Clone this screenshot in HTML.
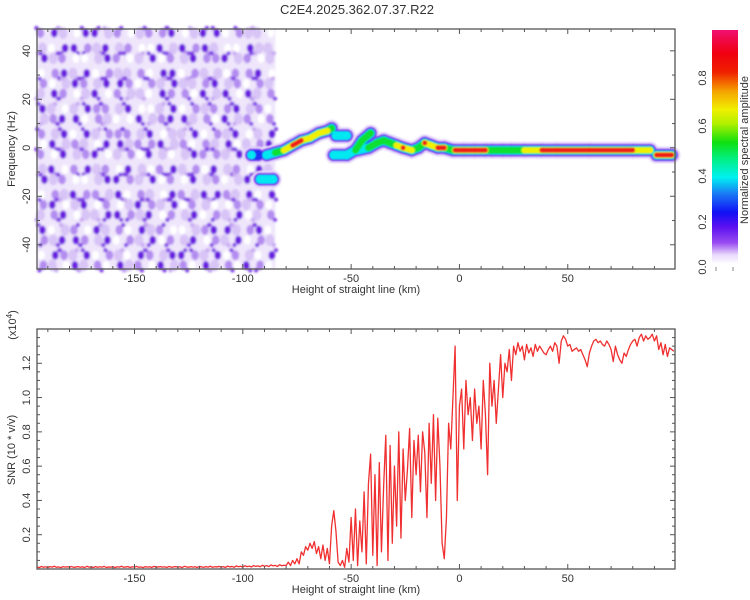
<!DOCTYPE html>
<html><head><meta charset="utf-8">
<style>
html,body{margin:0;padding:0;background:#fff;}
svg{display:block;font-family:"Liberation Sans",sans-serif;}
text{fill:#333;font-size:11px;}
</style></head>
<body>
<svg id="chart" width="750" height="600" viewBox="0 0 750 600">
<defs>
<filter id="blur1" x="-20%" y="-20%" width="140%" height="140%"><feGaussianBlur stdDeviation="1.0"/></filter>
<filter id="blur2" x="-20%" y="-20%" width="140%" height="140%"><feGaussianBlur stdDeviation="0.9"/></filter>
<linearGradient id="cbar" x1="0" y1="1" x2="0" y2="0">
<stop offset="0" stop-color="#ffffff"/>
<stop offset="0.04" stop-color="#e8d8fb"/>
<stop offset="0.09" stop-color="#9a4cf0"/>
<stop offset="0.16" stop-color="#5a10f0"/>
<stop offset="0.22" stop-color="#1010f5"/>
<stop offset="0.30" stop-color="#1a7af5"/>
<stop offset="0.37" stop-color="#00f0f0"/>
<stop offset="0.44" stop-color="#00f090"/>
<stop offset="0.52" stop-color="#10e010"/>
<stop offset="0.60" stop-color="#b0f000"/>
<stop offset="0.66" stop-color="#f0f000"/>
<stop offset="0.74" stop-color="#f5a000"/>
<stop offset="0.82" stop-color="#f02000"/>
<stop offset="0.90" stop-color="#f00010"/>
<stop offset="1" stop-color="#f01070"/>
</linearGradient>
</defs>
<text x="357" y="14" text-anchor="middle" style="font-size:13px">C2E4.2025.362.07.37.R22</text>
<g id="topPanel"></g>
<g id="bottomPanel"></g>
<g id="colorbar">
<rect x="712" y="30" width="26" height="234" fill="url(#cbar)"/>
<line x1="716" y1="267" x2="716" y2="271" stroke="#888"/>
<line x1="733" y1="267" x2="733" y2="271" stroke="#888"/>
<text transform="translate(706,267) rotate(-90)" text-anchor="middle">0.0</text>
<text transform="translate(706,222) rotate(-90)" text-anchor="middle">0.2</text>
<text transform="translate(706,176) rotate(-90)" text-anchor="middle">0.4</text>
<text transform="translate(706,126) rotate(-90)" text-anchor="middle">0.6</text>
<text transform="translate(706,78) rotate(-90)" text-anchor="middle">0.8</text>
<text transform="translate(748,150) rotate(-90)" text-anchor="middle">Normalized spectral amplitude</text>
</g>
</svg>
<script>
// ---------- data ----------
const xTicks = [-150, -100, -50, 0, 50];
const fTicks = [40, 20, 0, -20, -40];
const snrTicks = [0.2, 0.4, 0.6, 0.8, 1.0, 1.2];
// noise grid: columns -195..-85 (5 km), rows 49..-50 (5 Hz); level 0-3
const noiseRows = [
"2310331201223013302110",
"1033213120031323100311",
"3120013201302132231201",
"0231302112033021102230",
"2013213320213112312021",
"1320130211032203130312",
"3101322130013021223120",
"1233021003123312031202",
"2130312221301130213013",
"0312103312231202130123",
"2031230120310132213202",
"1302312031023120312031",
"3120013321302031201320",
"0213221302103213321303",
"2301302013213021002120",
"1230113321302130213012",
"3012031203120012331230",
"2133213021302130213021",
"0321302103213321302103",
"2103120312031203120320"
];
// spectral ridge
const ridgeGroup = [0,0, 1,1, 2,2,2,2,2,2,2,2,2, 3,3, 4,4,4,4,4, 5,5,5,5,5,5,5,5,5,5,5,5,5,5, 6,6,6,6,6,6,6,6,6,6,6,6,6, 7,7];
const ridgeX =     [-96,-93, -92,-86, -89,-85,-81,-77,-73,-69,-65,-61,-59, -57,-52, -58,-52,-48,-45,-41, -47,-42,-38,-35,-32,-29,-26,-22,-19,-16,-13,-10,-7,-3, -2,2,7,12,15,20,24,30,38,45,60,80,88, 91,98];
const ridgeF =     [-3,-3, -13,-13, -3,-2,-1,1,3,4,6,7,8, 5,5, -3,-3,-1,3,6, -1,0,2,3,2,1,0,-1,0,2,1,0,0,-1, -1,-1,-1,-1,-1,-1,-1,-1,-1,-1,-1,-1,-1, -3,-3];
const ridgeA =     [0.35,0.3, 0.38,0.35, 0.4,0.55,0.75,0.85,0.8,0.75,0.7,0.7,0.55, 0.45,0.45, 0.4,0.38,0.5,0.55,0.5, 0.45,0.5,0.55,0.55,0.6,0.75,0.85,0.7,0.55,0.8,0.7,0.85,0.85,0.6, 0.85,0.85,0.85,0.85,0.6,0.55,0.6,0.65,0.95,0.95,0.95,0.95,0.65, 0.85,0.85];
// SNR series (x10^4), 1 km steps starting at snrStart
const snrStart = -195;
const snrFlat = [
.012,.008,.015,.010,.013,.009,.014,.011,.016,.010,
.012,.008,.014,.011,.013,.010,.015,.009,.012,.014,
.010,.013,.008,.016,.011,.012,.009,.014,.010,.013,
.011,.015,.009,.012,.010,.014,.008,.013,.011,.016,
.010,.012,.014,.009,.013,.011,.015,.010,.012,.008,
.014,.011,.013,.009,.016,.010,.012,.014,.011,.013,
.009,.015,.010,.012,.014,.011,.013,.008,.016,.012,
.010,.014,.011,.013,.009,.015,.012,.010,.014,.011,
.016,.010,.013,.012,.015,.011,.014,.009,.017,.012,
.015,.010,.018,.013,.016,.011,.019,.014,.017,.012,
.020,.015,.018,.013,.022,.016,.020,.014,.024,.018,
.021,.015,.025,.019,.022];
const snrActive = [
.02,.04,.02,.05,.03,.06,.03,.10,.08,.13,
.11,.15,.12,.16,.09,.13,.06,.14,.05,.12,
.03,.25,.34,.22,.04,.02,.05,.01,.12,.04,
.30,.05,.35,.02,.28,.10,.45,.03,.50,.67,
.08,.55,.02,.62,.10,.48,.78,.05,.72,.15,
.60,.25,.80,.18,.70,.40,.58,.82,.30,.75,
.55,.78,.45,.80,.68,.30,.85,.50,.90,.40,
.88,.60,.15,.06,.30,.85,.70,1.00,1.30,.40,
.95,1.05,.70,1.10,.90,1.00,.75,1.05,.85,.95,
.70,1.10,.90,.55,1.20,.95,1.10,.85,1.05,1.25,
1.00,1.20,1.15,1.28,1.10,1.30,1.25,1.32,1.27,1.30,
1.22,1.31,1.26,1.29,1.24,1.31,1.27,1.30,1.28,1.26,
1.25,1.28,1.30,1.27,1.32,1.30,1.20,1.33,1.36,1.34,
1.30,1.31,1.27,1.28,1.29,1.27,1.28,1.25,1.22,1.18,
1.26,1.30,1.33,1.34,1.32,1.33,1.31,1.30,1.33,1.31,
1.28,1.21,1.30,1.25,1.22,1.20,1.26,1.24,1.28,1.31,
1.33,1.34,1.30,1.35,1.37,1.33,1.36,1.34,1.35,1.37,
1.33,1.36,1.28,1.32,1.25,1.31,1.24,1.29,1.28,1.27];

// ---------- scales ----------
const X0 = 37, X1 = 675;
const xMin = -195, xMax = 99.5;
function xS(v){ return X0 + (v - xMin) / (xMax - xMin) * (X1 - X0); }
const T0 = 29, T1 = 269, fMax = 49, fMin = -50;
function fS(f){ return T0 + (fMax - f) / (fMax - fMin) * (T1 - T0); }
const B0 = 329, B1 = 569, sMax = 1.4;
function sS(v){ return B1 - v / sMax * (B1 - B0); }

const NS = 'http://www.w3.org/2000/svg';
function mk(tag, attrs, parent){
  const e = document.createElementNS(NS, tag);
  for (const k in attrs) e.setAttribute(k, attrs[k]);
  parent.appendChild(e);
  return e;
}

function axes(g, yTop, yBot, nameP){
  const frame = mk('rect', {x:X0, y:yTop, width:X1-X0, height:yBot-yTop, fill:'none', stroke:'#555', 'stroke-width':1.3}, g);
  
  
  for (let v = -190; v <= 90; v += 10) {
    const major = v % 50 === 0;
    const len = major ? 5 : 3;
    const x = xS(v);
    const t1 = mk('line', {x1:x, y1:yBot, x2:x, y2:yBot-len, stroke:'#555'}, g);
    
    
    const t2 = mk('line', {x1:x, y1:yTop, x2:x, y2:yTop+len, stroke:'#555'}, g);
    
    
  }
  xTicks.forEach(v => {
    const t = mk('text', {x:xS(v), y:yBot+13, 'text-anchor':'middle'}, g);
    t.textContent = v;
    
    
  });
  const xl = mk('text', {x:356, y:yBot+24, 'text-anchor':'middle'}, g);
  xl.textContent = 'Height of straight line (km)';
  
  
}

// ---------- top spectrogram ----------
const topG = document.getElementById('topPanel');
const noiseG = mk('g', {filter:'url(#blur1)'}, topG);


const nbg = mk('rect', {x:xS(-195), y:T0, width:xS(-85)-xS(-195), height:T1-T0, fill:'#efe6fb'}, noiseG);


const lvlColor = ['#ffffff','#d8c4f6','#b38cf0','#6a1ee0'];
const lvlR = [3.5, 4.5, 3.8, 3.4];
noiseRows.forEach((row, r) => {
  for (let c = 0; c < row.length; c++) {
    const lv = +row[c];
    const cx = xS(-192.5 + c * 5) + ((r * 7 + c * 3) % 5 - 2);
    const cy = fS(46.5 - r * 5) + ((r * 3 + c * 5) % 5 - 2);
    const el = mk('ellipse', {cx:cx, cy:cy, rx:lvlR[lv], ry:lvlR[lv]*1.3, fill:lvlColor[lv]}, noiseG);
    
    
    if (lv >= 1) {
      const e2 = mk('circle', {cx:cx + (c % 2 ? 4 : -4), cy:cy + (r % 2 ? 5 : -5), r:2.2, fill:lv >= 2 ? '#8040e6' : '#c8aaf2'}, noiseG);
      
      
    }
  }
});

const ridgeG = mk('g', {filter:'url(#blur2)'}, topG);


const layers = [[0.0,17,'#e6d8fa'],[0.1,13,'#9a4cf0'],[0.2,10.5,'#1a30f5'],[0.3,8.5,'#00e8f0'],[0.45,7,'#10e030'],[0.6,6,'#f0f000'],[0.78,4.8,'#f01a1a']];
layers.forEach(([thr, w, col]) => {
  for (let i = 0; i < ridgeX.length; i++) {
    const a = ridgeA[i];
    if (a <= thr) continue;
    const x = xS(ridgeX[i]), y = fS(ridgeF[i]);
    const c = mk('circle', {cx:x, cy:y, r:w/2, fill:col}, ridgeG);
    
    
    if (i + 1 < ridgeX.length && ridgeGroup[i+1] === ridgeGroup[i] && ridgeA[i+1] > thr) {
      const l = mk('line', {x1:x, y1:y, x2:xS(ridgeX[i+1]), y2:fS(ridgeF[i+1]), stroke:col, 'stroke-width':w, 'stroke-linecap':'round'}, ridgeG);
      
      
    }
  }
});

axes(topG, T0, T1, 'spectrogram');
for (let f = -50; f <= 40; f += 10) {
  const y = fS(f);
  if (y < T0 || y > T1) continue;
  const len = f % 20 === 0 ? 5 : 3;
  const a = mk('line', {x1:X0, y1:y, x2:X0+len, y2:y, stroke:'#555'}, topG);
  
  
  const b = mk('line', {x1:X1, y1:y, x2:X1-len, y2:y, stroke:'#555'}, topG);
  
  
}
fTicks.forEach(f => {
  const t = mk('text', {transform:`translate(30,${fS(f)}) rotate(-90)`, 'text-anchor':'middle'}, topG);
  t.textContent = f;
  
  
});
const fy = mk('text', {transform:'translate(15,149) rotate(-90)', 'text-anchor':'middle'}, topG);
fy.textContent = 'Frequency (Hz)';



// ---------- bottom SNR ----------
const botG = document.getElementById('bottomPanel');
const snrY = snrFlat.concat(snrActive);
let pts = [];
snrY.forEach((v, i) => { pts.push(xS(snrStart + i).toFixed(2) + ',' + sS(v).toFixed(2)); });
const line = mk('polyline', {points:pts.join(' '), fill:'none', stroke:'#f03030', 'stroke-width':1.3, 'stroke-linejoin':'round'}, botG);


axes(botG, B0, B1, 'snr');
for (let k = 1; k <= 27; k++) {
  const v = k * 0.05;
  const y = sS(v);
  const major = k % 4 === 0;
  const len = major ? 5 : 3;
  const a = mk('line', {x1:X0, y1:y, x2:X0+len, y2:y, stroke:'#555'}, botG);
  
  
  const b = mk('line', {x1:X1, y1:y, x2:X1-len, y2:y, stroke:'#555'}, botG);
  
  
}
snrTicks.forEach(v => {
  const t = mk('text', {transform:`translate(30,${sS(v)}) rotate(-90)`, 'text-anchor':'middle'}, botG);
  t.textContent = v.toFixed(1);
  
  
});
const sy = mk('text', {transform:'translate(15,450) rotate(-90)', 'text-anchor':'middle'}, botG);
sy.textContent = 'SNR (10 * v/v)';


const sc = mk('text', {transform:'translate(16,325) rotate(-90)', 'text-anchor':'middle'}, botG);
sc.innerHTML = '(x10<tspan dy="-4" style="font-size:8px">4</tspan><tspan dy="4">)</tspan>';


</script>
</body></html>
